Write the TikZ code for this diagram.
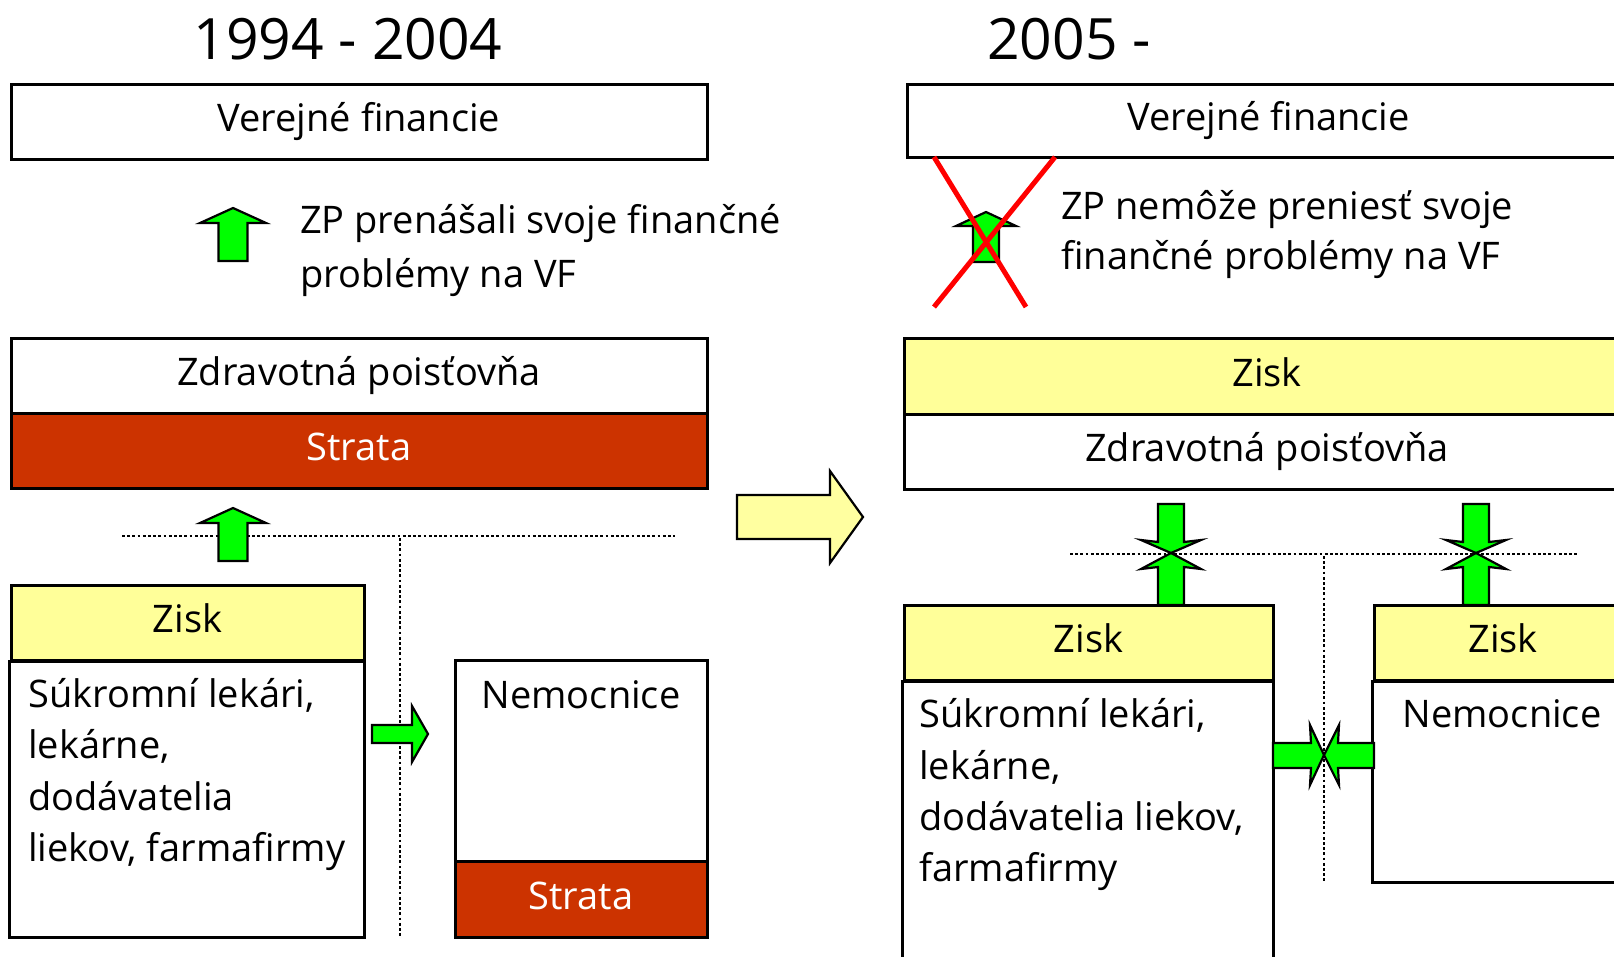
\documentclass[tikz,border=0pt]{standalone}
\usepackage{fontspec}
\setmainfont{Open Sans}
\begin{document}
\definecolor{arrowgreen}{HTML}{00FF00}
\definecolor{zisky}{HTML}{FFFF99}
\definecolor{stratared}{HTML}{CC3300}
\definecolor{shiftyellow}{HTML}{FFFFA0}
\begin{tikzpicture}[x=1pt,y=-1pt,
  txt/.style={font=\fontsize{38}{50}\selectfont},
  box/.style={draw=black, line width=3pt, inner sep=0pt, txt, text height=28pt, text depth=8pt},
  gain/.style={box, fill=zisky},
  loss/.style={box, fill=stratared, text=white},
  frame/.style={draw=black, line width=3pt},
  lbl/.style={txt, anchor=base west, inner sep=0pt},
  title/.style={font=\fontsize{57}{68}\selectfont, inner sep=0pt, text height=42pt, text depth=0pt},
  greenarrow/.style={fill=arrowgreen, draw=black, line width=2.2pt, line join=miter},
  sep/.style={draw=black, line width=2.6pt, dash pattern=on 2.8pt off 2.4pt},
  uparrow/.style={greenarrow},
]
\clip (0,0) rectangle (1614,956);
\fill[white] (0,0) rectangle (1614,956);

% ---------- period 1994 - 2004 ----------
\node[title] (t1) at (348,38) {1994 - 2004};
\node[box, minimum width=696pt, minimum height=75pt] (vfL) at (359,121.5) {Verejné financie};

\draw[uparrow, shift={(233,208)}] (0,0) -- (33,15) -- (14.5,15) -- (14.5,53) -- (-14.5,53) -- (-14.5,15) -- (-33,15) -- cycle;
\node[lbl] (txL1) at (300,233) {ZP prenášali svoje finančné};
\node[lbl] (txL2) at (300,287) {problémy na VF};

\node[box, minimum width=696pt, minimum height=75pt] (zpL) at (359,375.5) {Zdravotná poisťovňa};
\node[loss, minimum width=696pt, minimum height=75pt] (strL) at (359,450.5) {Strata};

% separators between the providers
\coordinate (sepLa) at (122,536);
\coordinate (sepLb) at (675,536);
\coordinate (sepLc) at (400,538);
\coordinate (sepLd) at (400,937);
\draw[sep] (sepLa) -- (sepLb);
\draw[sep] (sepLc) -- (sepLd);

\draw[uparrow, shift={(233,508)}] (0,0) -- (33,15) -- (14.5,15) -- (14.5,53) -- (-14.5,53) -- (-14.5,15) -- (-33,15) -- cycle;

% private providers
\node[gain, minimum width=353pt, minimum height=75pt] (ziskL) at (187.5,622.5) {Zisk};
\draw[frame] (ziskL.south west) rectangle (364,937);
\node[lbl] (pL1) at (28,707) {Súkromní lekári,};
\node[lbl] (pL2) at (28,758) {lekárne,};
\node[lbl] (pL3) at (28,810) {dodávatelia};
\node[lbl] (pL4) at (28,861) {liekov, farmafirmy};

% hospitals
\draw[frame] (455,660) rectangle (707,861);
\node[txt, inner sep=0pt, anchor=base] (nemL) at (581,708) {Nemocnice};
\node[loss, minimum width=252pt, minimum height=76pt] (strL2) at (581,899) {Strata};

\draw[greenarrow] (372,725) -- (412,725) -- (412,706) -- (428,734) -- (412,762) -- (412,743) -- (372,743) -- cycle;

% ---------- transition ----------
\draw[draw=black, line width=2.2pt, fill=shiftyellow, line join=miter]
  (737,495) -- (830,495) -- (830,471) -- (863,517) -- (830,563) -- (830,539) -- (737,539) -- cycle;

% ---------- period 2005 - ----------
\node[title] (t2) at (1069,38) {2005 -};
\node[box, minimum width=723pt, minimum height=73pt] (vfR) at (1268.5,120.5) {Verejné financie};

\draw[uparrow, shift={(986,212)}] (0,0) -- (30,14) -- (13,14) -- (13,50) -- (-13,50) -- (-13,14) -- (-30,14) -- cycle;
\draw[red, line width=5pt] (934,157) -- (1026,307);
\draw[red, line width=5pt] (934,307) -- (1055,157);
\node[lbl] (txR1) at (1061,219) {ZP nemôže preniesť svoje};
\node[lbl] (txR2) at (1061,269) {finančné problémy na VF};

\node[gain, minimum width=726pt, minimum height=76pt] (ziskR) at (1267,376) {Zisk};
\node[box, minimum width=726pt, minimum height=75pt] (zpR) at (1267,451.5) {Zdravotná poisťovňa};

\coordinate (sepRa) at (1070,554);
\coordinate (sepRb) at (1577,554);
\coordinate (sepRc) at (1324,556);
\coordinate (sepRd) at (1324,882);
\draw[sep] (sepRa) -- (sepRb);
\draw[sep] (sepRc) -- (sepRd);

% private providers
\node[gain, minimum width=369pt, minimum height=75pt] (ziskR1) at (1088.5,642.5) {Zisk};
\draw[frame] (ziskR1.south west) rectangle (1273,975);
\node[lbl] (pR1) at (919,727) {Súkromní lekári,};
\node[lbl] (pR2) at (919,779) {lekárne,};
\node[lbl] (pR3) at (919,830) {dodávatelia liekov,};
\node[lbl] (pR4) at (919,881) {farmafirmy};

% hospitals
\node[gain, minimum width=258pt, minimum height=75pt] (ziskR2) at (1503,642.5) {Zisk};
\draw[frame] (ziskR2.south west) rectangle (1632,882);
\node[txt, inner sep=0pt, anchor=base] (nemR) at (1502,727) {Nemocnice};

% flows meeting at the separators
\foreach \cx in {1171,1476}{
  \draw[greenarrow] (\cx-13,504) -- (\cx+13,504) -- (\cx+13,542) -- (\cx+30,540) -- (\cx,553) -- (\cx-30,540) -- (\cx-13,542) -- cycle;
  \draw[greenarrow] (\cx-13,605) -- (\cx+13,605) -- (\cx+13,567) -- (\cx+30,569) -- (\cx,553) -- (\cx-30,569) -- (\cx-13,567) -- cycle;
}
\draw[greenarrow] (1273,743) -- (1311,743) -- (1310,725) -- (1324,755) -- (1310,785) -- (1311,768) -- (1273,768) -- cycle;
\draw[greenarrow] (1374,743) -- (1338,743) -- (1339,725) -- (1324,755) -- (1339,785) -- (1338,768) -- (1374,768) -- cycle;
\end{tikzpicture}
\end{document}
